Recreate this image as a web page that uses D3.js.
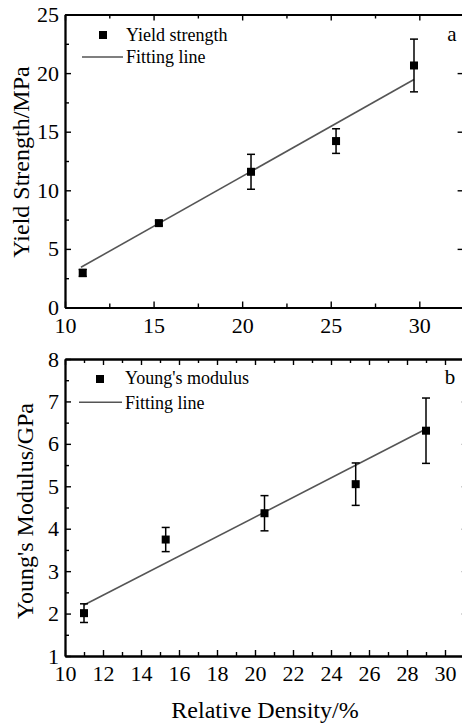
<!DOCTYPE html>
<html>
<head>
<meta charset="utf-8">
<script src="https://cdn.jsdelivr.net/npm/d3@7"></script>
<style>
  html, body { margin: 0; padding: 0; background: #fff; }
  svg, svg text { font-family: "Liberation Serif", "Times New Roman", Times, serif !important; }
</style>
</head>
<body>
<svg id="chart" width="462" height="726"></svg>
<script>
// ---- Panel a: yield strength ----
const densityA = [11.0, 15.3, 20.5, 25.3, 29.7];
const yieldStrength = [2.95, 7.2, 11.58, 14.2, 20.65];
const yieldErr = [0.3, 0.2, 1.49, 1.05, 2.25];
const fitAx = [10.9, 29.7];
const fitAy = [3.43, 19.45];
const xTicksA = [10, 15, 20, 25, 30];
const xMinorA = [12.5, 17.5, 22.5, 27.5, 32.5];
const yTicksA = [0, 5, 10, 15, 20, 25];
const yMinorA = [2.5, 7.5, 12.5, 17.5, 22.5];

// ---- Panel b: Young's modulus ----
const densityB = [11.0, 15.3, 20.5, 25.3, 29.0];
const youngsModulus = [2.01, 3.745, 4.365, 5.05, 6.31];
const youngsErr = [0.22, 0.285, 0.415, 0.5, 0.77];
const fitBx = [11.0, 29.0];
const fitBy = [2.2, 6.35];
const xTicksB = [10, 12, 14, 16, 18, 20, 22, 24, 26, 28, 30];
const xMinorB = [11, 13, 15, 17, 19, 21, 23, 25, 27, 29, 31];
const yTicksB = [1, 2, 3, 4, 5, 6, 7, 8];
const yMinorB = [1.5, 2.5, 3.5, 4.5, 5.5, 6.5, 7.5];

const FONT = "'Liberation Serif', 'Times New Roman', Times, serif";
const svg = d3.select("#chart").attr("font-family", FONT);

function panel(cfg) {
  const x = d3.scaleLinear().domain(cfg.xDomain).range(cfg.xRange);
  const y = d3.scaleLinear().domain(cfg.yDomain).range(cfg.yRange);
  const g = svg.append("g").attr("font-family", FONT);
  const x0 = cfg.xRange[0], x1 = cfg.xRange[1];
  const yb = cfg.yRange[0], yt = cfg.yRange[1];

  function styleAxis(sel) {
    sel.attr("font-family", FONT);
    sel.selectAll("path.domain").attr("stroke", "#000").attr("stroke-width", 1.8);
    sel.selectAll(".tick line").attr("stroke", "#000").attr("stroke-width", 1.4);
    sel.selectAll(".tick text").attr("fill", "#000").attr("font-size", 22)
      .attr("font-family", FONT);
  }

  // bottom axis
  g.append("g").attr("transform", `translate(0,${yb})`)
    .call(d3.axisBottom(x).tickValues(cfg.xTicks).tickSize(-6).tickSizeOuter(0).tickPadding(cfg.xPad).tickFormat(d3.format("d")))
    .call(styleAxis);
  g.append("g").attr("transform", `translate(0,${yb})`)
    .call(d3.axisBottom(x).tickValues(cfg.xMinor).tickSize(-4).tickSizeOuter(0).tickFormat(""))
    .call(styleAxis);
  // top axis (frame)
  g.append("g").attr("transform", `translate(0,${yt})`)
    .call(d3.axisTop(x).tickValues(cfg.xTicks).tickSize(-6).tickSizeOuter(0).tickFormat(""))
    .call(styleAxis);
  g.append("g").attr("transform", `translate(0,${yt})`)
    .call(d3.axisTop(x).tickValues(cfg.xMinor).tickSize(-4).tickSizeOuter(0).tickFormat(""))
    .call(styleAxis);
  // left axis
  g.append("g").attr("transform", `translate(${x0},0)`)
    .call(d3.axisLeft(y).tickValues(cfg.yTicks).tickSize(-6).tickSizeOuter(0).tickPadding(6).tickFormat(d3.format("d")))
    .call(styleAxis);
  g.append("g").attr("transform", `translate(${x0},0)`)
    .call(d3.axisLeft(y).tickValues(cfg.yMinor).tickSize(-4).tickSizeOuter(0).tickFormat(""))
    .call(styleAxis);
  // right axis (frame)
  g.append("g").attr("transform", `translate(${x1},0)`)
    .call(d3.axisRight(y).tickValues(cfg.yTicks).tickSize(-6).tickSizeOuter(0).tickFormat(""))
    .call(styleAxis);

  // fitting line
  const fit = cfg.fitX.map((v, i) => [v, cfg.fitY[i]]);
  g.append("path").datum(fit)
    .attr("d", d3.line().x(d => x(d[0])).y(d => y(d[1])))
    .attr("fill", "none").attr("stroke", "#555").attr("stroke-width", 1.6);

  // error bars
  const pts = cfg.px.map((v, i) => ({x: v, y: cfg.py[i], e: cfg.pe[i]}));
  const eb = g.append("g").attr("stroke", "#000").attr("stroke-width", 1.5);
  pts.forEach(p => {
    eb.append("line").attr("x1", x(p.x)).attr("x2", x(p.x)).attr("y1", y(p.y - p.e)).attr("y2", y(p.y + p.e));
    eb.append("line").attr("x1", x(p.x) - 4).attr("x2", x(p.x) + 4).attr("y1", y(p.y - p.e)).attr("y2", y(p.y - p.e));
    eb.append("line").attr("x1", x(p.x) - 4).attr("x2", x(p.x) + 4).attr("y1", y(p.y + p.e)).attr("y2", y(p.y + p.e));
  });
  // markers
  g.selectAll("rect.pt").data(pts).enter().append("rect")
    .attr("x", d => x(d.x) - 4).attr("y", d => y(d.y) - 4)
    .attr("width", 8).attr("height", 8).attr("fill", "#000");

  // legend
  const L = cfg.legend;
  g.append("rect").attr("x", L.mx - 4).attr("y", L.my - 4).attr("width", 8).attr("height", 8).attr("fill", "#000");
  g.append("text").attr("x", L.tx).attr("y", L.t1y).attr("font-size", 18).text(L.label);
  g.append("line").attr("x1", L.lx1).attr("x2", L.lx2).attr("y1", L.ly).attr("y2", L.ly)
    .attr("stroke", "#555").attr("stroke-width", 1.6);
  g.append("text").attr("x", L.tx).attr("y", L.t2y).attr("font-size", 18).text("Fitting line");
  g.append("text").attr("x", L.px).attr("y", L.py).attr("font-size", 21).attr("text-anchor", "middle").text(L.panel);

  // y title
  g.append("text").attr("transform", `translate(${cfg.yTitleX},${cfg.yTitleY}) rotate(-90)`)
    .attr("text-anchor", "middle").attr("font-size", 24).text(cfg.yTitle);
}

panel({
  xDomain: [10, 32.5], xRange: [65, 463.6],
  yDomain: [0, 25], yRange: [307.5, 14.5],
  xTicks: xTicksA, xMinor: xMinorA, yTicks: yTicksA, yMinor: yMinorA, xPad: 10,
  px: densityA, py: yieldStrength, pe: yieldErr, fitX: fitAx, fitY: fitAy,
  legend: {mx: 103, my: 35, tx: 126, t1y: 41, lx1: 82, lx2: 123, ly: 57, t2y: 63, px: 452, py: 41, label: "Yield strength", panel: "a"},
  yTitle: "Yield Strength/MPa", yTitleX: 29, yTitleY: 162
});

panel({
  xDomain: [10, 31.2], xRange: [65, 467.8],
  yDomain: [1, 8], yRange: [656, 359],
  xTicks: xTicksB, xMinor: xMinorB, yTicks: yTicksB, yMinor: yMinorB, xPad: 9.4,
  px: densityB, py: youngsModulus, pe: youngsErr, fitX: fitBx, fitY: fitBy,
  legend: {mx: 100, my: 379, tx: 125, t1y: 384, lx1: 79, lx2: 122, ly: 402.3, t2y: 408.5, px: 450, py: 384, label: "Young's modulus", panel: "b"},
  yTitle: "Young's Modulus/GPa", yTitleX: 33, yTitleY: 511
});

svg.append("text").attr("x", 265).attr("y", 718).attr("text-anchor", "middle")
  .attr("font-size", 24).text("Relative Density/%");
</script>
</body>
</html>
